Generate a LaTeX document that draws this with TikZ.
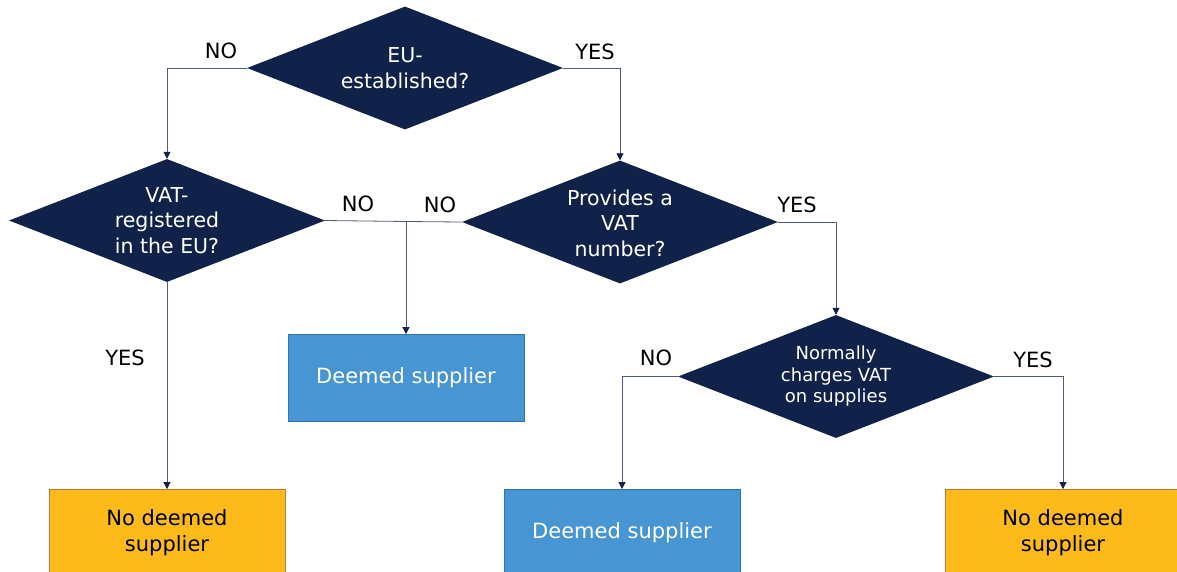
\documentclass[tikz,border=0pt]{standalone}
\usepackage{fontspec}
\setmainfont{DejaVu Sans}
\usetikzlibrary{shapes.geometric,arrows.meta}
\definecolor{navy}{RGB}{16,34,74}
\definecolor{linec}{RGB}{80,92,118}
\definecolor{bluefill}{RGB}{71,150,211}
\definecolor{bluedraw}{RGB}{46,117,182}
\definecolor{amberfill}{RGB}{252,187,26}
\definecolor{amberdraw}{RGB}{200,116,56}
\tikzset{
  decision/.style={diamond, fill=navy, inner sep=0pt,
    minimum width=316pt, minimum height=123pt},
  dtext/.style={text=white, align=center, inner sep=0pt,
    font=\fontsize{20.5}{25.5}\selectfont},
  dsmall/.style={dtext, font=\fontsize{18}{21.5}\selectfont},
  bluebox/.style={rectangle, fill=bluefill, draw=bluedraw, line width=0.8pt, text=white,
    align=center, minimum width=236pt, minimum height=87pt, inner sep=0pt,
    font=\fontsize{21}{26}\selectfont},
  amberbox/.style={bluebox, fill=amberfill, draw=amberdraw, text=black},
  lbl/.style={font=\fontsize{21}{24}\selectfont, text=black, inner sep=0pt},
  conn/.style={draw=linec, line width=0.8pt},
  arr/.style={conn, -{Triangle[length=7pt,width=7pt,fill=navy,color=navy]}}
}
\begin{document}
\begin{tikzpicture}[x=1pt,y=-1pt]
\useasboundingbox (0,0) rectangle (1177,571);
\clip (0,0) rectangle (1177,571);
% decisions
\node[decision] (d1) at (405,68) {};
\node[dtext] (t1) at (d1.center) {EU-\\established?};
\node[decision] (d2) at (167,220.5) {};
\node[dtext] (t2) at (d2.center) {VAT-\\registered\\in the EU?};
\node[decision] (d3) at (620,222) {};
\node[dtext] (t3) at (620,223) {Provides a\\VAT\\number?};
\node[decision] (d4) at (836,376.5) {};
\node[dsmall] (t4) at (836,376.5) {Normally\\charges VAT\\on supplies};
% outcome boxes
\node[bluebox] (b1) at (406,378) {Deemed supplier};
\node[amberbox] (n1) at (167,533) {No deemed\\supplier};
\node[bluebox] (b2) at (622,533) {Deemed supplier};
\node[amberbox] (n2) at (1063,533) {No deemed\\supplier};
% junction
\coordinate (j) at (406,221.5);
% connectors
\draw[arr] (d1.west) -| (d2.north);
\draw[arr] (d1.east) -| (d3.north);
\draw[arr] (d2.south) -- (n1.north);
\draw[conn] (d2.east) -- (j);
\draw[conn] (d3.west) -- (j);
\draw[arr] (j) -- (b1.north);
\draw[arr] (d3.east) -| (d4.north);
\draw[arr] (d4.west) -| (b2.north);
\draw[arr] (d4.east) -| (n2.north);
% labels
\node[lbl] (l1) at (221,51) {NO};
\node[lbl] (l2) at (595,52) {YES};
\node[lbl] (l3) at (358,204) {NO};
\node[lbl] (l4) at (440,205) {NO};
\node[lbl] (l5) at (797,205) {YES};
\node[lbl] (l6) at (125,358) {YES};
\node[lbl] (l7) at (656,358) {NO};
\node[lbl] (l8) at (1033,360) {YES};
\end{tikzpicture}
\end{document}
